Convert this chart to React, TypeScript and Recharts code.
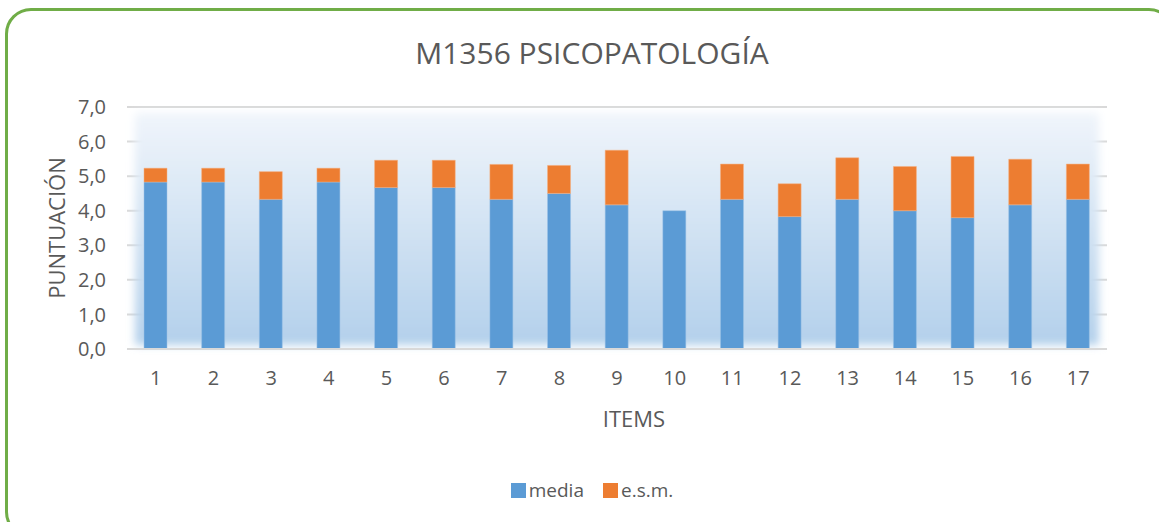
import React from 'react';
import { BarChart, Bar, XAxis, YAxis, CartesianGrid, ReferenceArea, Label } from 'recharts';

const items = ['1','2','3','4','5','6','7','8','9','10','11','12','13','14','15','16','17'];
const media = [4.83, 4.83, 4.33, 4.83, 4.67, 4.67, 4.33, 4.5, 4.17, 4.0, 4.33, 3.83, 4.33, 4.0, 3.8, 4.17, 4.33];
const esm = [0.4, 0.4, 0.8, 0.4, 0.79, 0.79, 1.01, 0.81, 1.58, 0, 1.02, 0.95, 1.2, 1.28, 1.77, 1.32, 1.02];
const yTicks = [0, 1, 2, 3, 4, 5, 6, 7];
const seriesNames = ['media', 'e.s.m.'];
const seriesColors = ['#5B9BD5', '#ED7D31'];

const data = items.map((it, i) => ({ item: it, media: media[i], esm: esm[i] }));

const FONT = '"Open Sans", sans-serif';
const TXT = '#595959';

const BgShape = (props: any) => {
  const { x, y, width, height } = props;
  return (
    <rect x={x + 8} y={y + 6} width={width - 16} height={height - 10} fill="url(#bgGrad)" filter="url(#soft)" />
  );
};

export default function App() {
  return (
    <div style={{ position: 'fixed', left: 0, top: 0, width: 1159, height: 522, background: '#fff', overflow: 'hidden' }}>
      <div style={{ position: 'absolute', left: 5, top: 8, width: 1170, height: 530, border: '3px solid #70AD47', borderRadius: 26, boxSizing: 'border-box' }} />
      <div style={{ position: 'absolute', left: 0, top: 33, width: 1184, textAlign: 'center', fontFamily: FONT, fontSize: 30, color: TXT, lineHeight: '40px' }}>
        M1356 PSICOPATOLOGÍA
      </div>
      <div style={{ position: 'absolute', left: 0, top: 0 }}>
        <BarChart width={1159} height={522} data={data} margin={{ top: 107, right: 52, bottom: 143, left: 0 }} barSize={23}>
          <defs>
            <linearGradient id="bgGrad" x1="0" y1="0" x2="0" y2="1">
              <stop offset="0%" stopColor="#F0F5FB" />
              <stop offset="100%" stopColor="#B3D0EB" />
            </linearGradient>
            <filter id="soft" x="-5%" y="-5%" width="110%" height="110%">
              <feGaussianBlur stdDeviation="4" />
            </filter>
          </defs>
          <ReferenceArea y1={0} y2={7} shape={<BgShape />} ifOverflow="visible" />
          <CartesianGrid vertical={false} stroke="#D9D9D9" strokeWidth={2} />
          <XAxis
            dataKey="item"
            height={30}
            tickLine={false}
            axisLine={{ stroke: '#D9D9D9', strokeWidth: 2 }}
            tick={{ fontFamily: FONT, fontSize: 20, fill: TXT }}
            tickMargin={16}
            interval={0}
          >
            <Label value="ITEMS" position="insideBottom" offset={-48} dx={17} style={{ fontFamily: FONT, fontSize: 22, fill: TXT }} />
          </XAxis>
          <YAxis
            width={127}
            domain={[0, 7]}
            ticks={yTicks}
            tickFormatter={(v: number) => v.toFixed(1).replace('.', ',')}
            tickLine={false}
            axisLine={false}
            tick={{ fontFamily: FONT, fontSize: 20, fill: TXT }}
            tickMargin={15}
          >
            <Label value="PUNTUACIÓN" angle={-90} position="insideLeft" offset={57} style={{ fontFamily: FONT, fontSize: 22, fill: TXT, textAnchor: 'middle' }} />
          </YAxis>
          <Bar dataKey="media" name="media" stackId="a" fill={seriesColors[0]} stroke="#9DC3E6" strokeWidth={0.5} isAnimationActive={false} />
          <Bar dataKey="esm" name="e.s.m." stackId="a" fill={seriesColors[1]} stroke="#F4B183" strokeWidth={0.5} isAnimationActive={false} />
        </BarChart>
      </div>
      <div style={{ position: 'absolute', left: 0, top: 477, width: 1184, display: 'flex', justifyContent: 'center', fontFamily: FONT, fontSize: 19, color: TXT, lineHeight: '26px' }}>
        {seriesNames.map((n, i) => (
          <span key={n} style={{ display: 'flex', alignItems: 'center', marginRight: i === 0 ? 19 : 0 }}>
            <span style={{ width: 15, height: 15, background: seriesColors[i], display: 'inline-block', marginRight: 3 }} />
            {n}
          </span>
        ))}
      </div>
    </div>
  );
}
